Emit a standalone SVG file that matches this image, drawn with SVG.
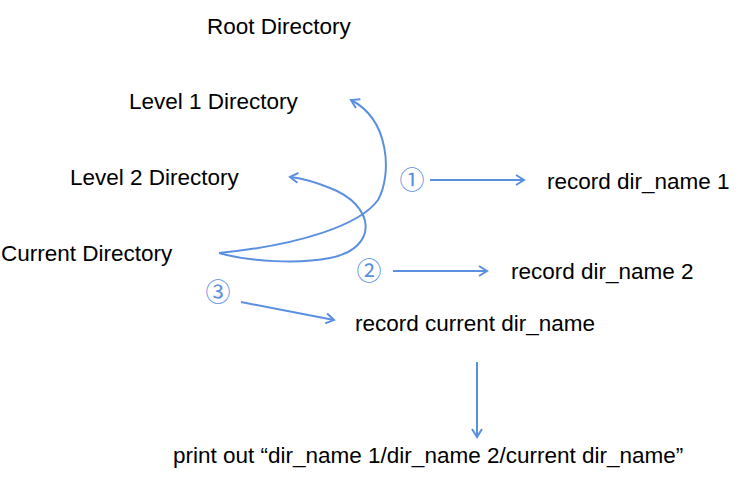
<svg xmlns="http://www.w3.org/2000/svg" width="751" height="481" viewBox="0 0 751 481">
<defs>
<marker id="ah" markerWidth="12" markerHeight="12" refX="10" refY="6" orient="auto" markerUnits="userSpaceOnUse">
<path d="M2,1 L10,6 L2,11" fill="none" stroke="#5b8fe0" stroke-width="2"/>
</marker>
</defs>
<style>
.t{font-family:"Liberation Sans",Arial,sans-serif;font-size:22.5px;fill:#000}
.n{font-family:"Noto Sans CJK SC","DejaVu Sans",sans-serif;font-size:25px;fill:#5b8fe0;text-anchor:middle}
.c{fill:none;stroke:#5b8fe0;stroke-width:2;marker-end:url(#ah)}
</style>
<rect width="751" height="481" fill="#fff"/>
<g id="root"><text class="t" x="207" y="34">Root Directory</text></g>
<g id="level1"><text class="t" x="129" y="109">Level 1 Directory</text></g>
<g id="level2"><text class="t" x="70" y="185">Level 2 Directory</text></g>
<g id="current"><text class="t" x="1" y="261">Current Directory</text></g>
<g id="rec1"><text class="t" x="547" y="189">record dir_name 1</text></g>
<g id="rec2"><text class="t" x="511" y="279">record dir_name 2</text></g>
<g id="rec3"><text class="t" x="355" y="331">record current dir_name</text></g>
<g id="print"><text class="t" x="173" y="463">print out “dir_name 1/dir_name 2/current dir_name”</text></g>
<g id="num1"><text class="n" x="412" y="189">①</text></g>
<g id="num2"><text class="n" x="369" y="280">②</text></g>
<g id="num3"><text class="n" x="218" y="301">③</text></g>
<g id="connectors">
<path class="c" d="M219,253 C300,245 360,225 378,200 C392,175 390,120 351,100"/>
<path class="c" d="M219,253 C250,262 300,264 330,258 C380,248 375,205 330,188 C315,182 300,178 290,177"/>
<path class="c" d="M430,180 L524,180"/>
<path class="c" d="M393,271 L487,271"/>
<path class="c" d="M241,302 L334,320"/>
<path class="c" d="M477,362 L477,437"/>
</g>
</svg>
